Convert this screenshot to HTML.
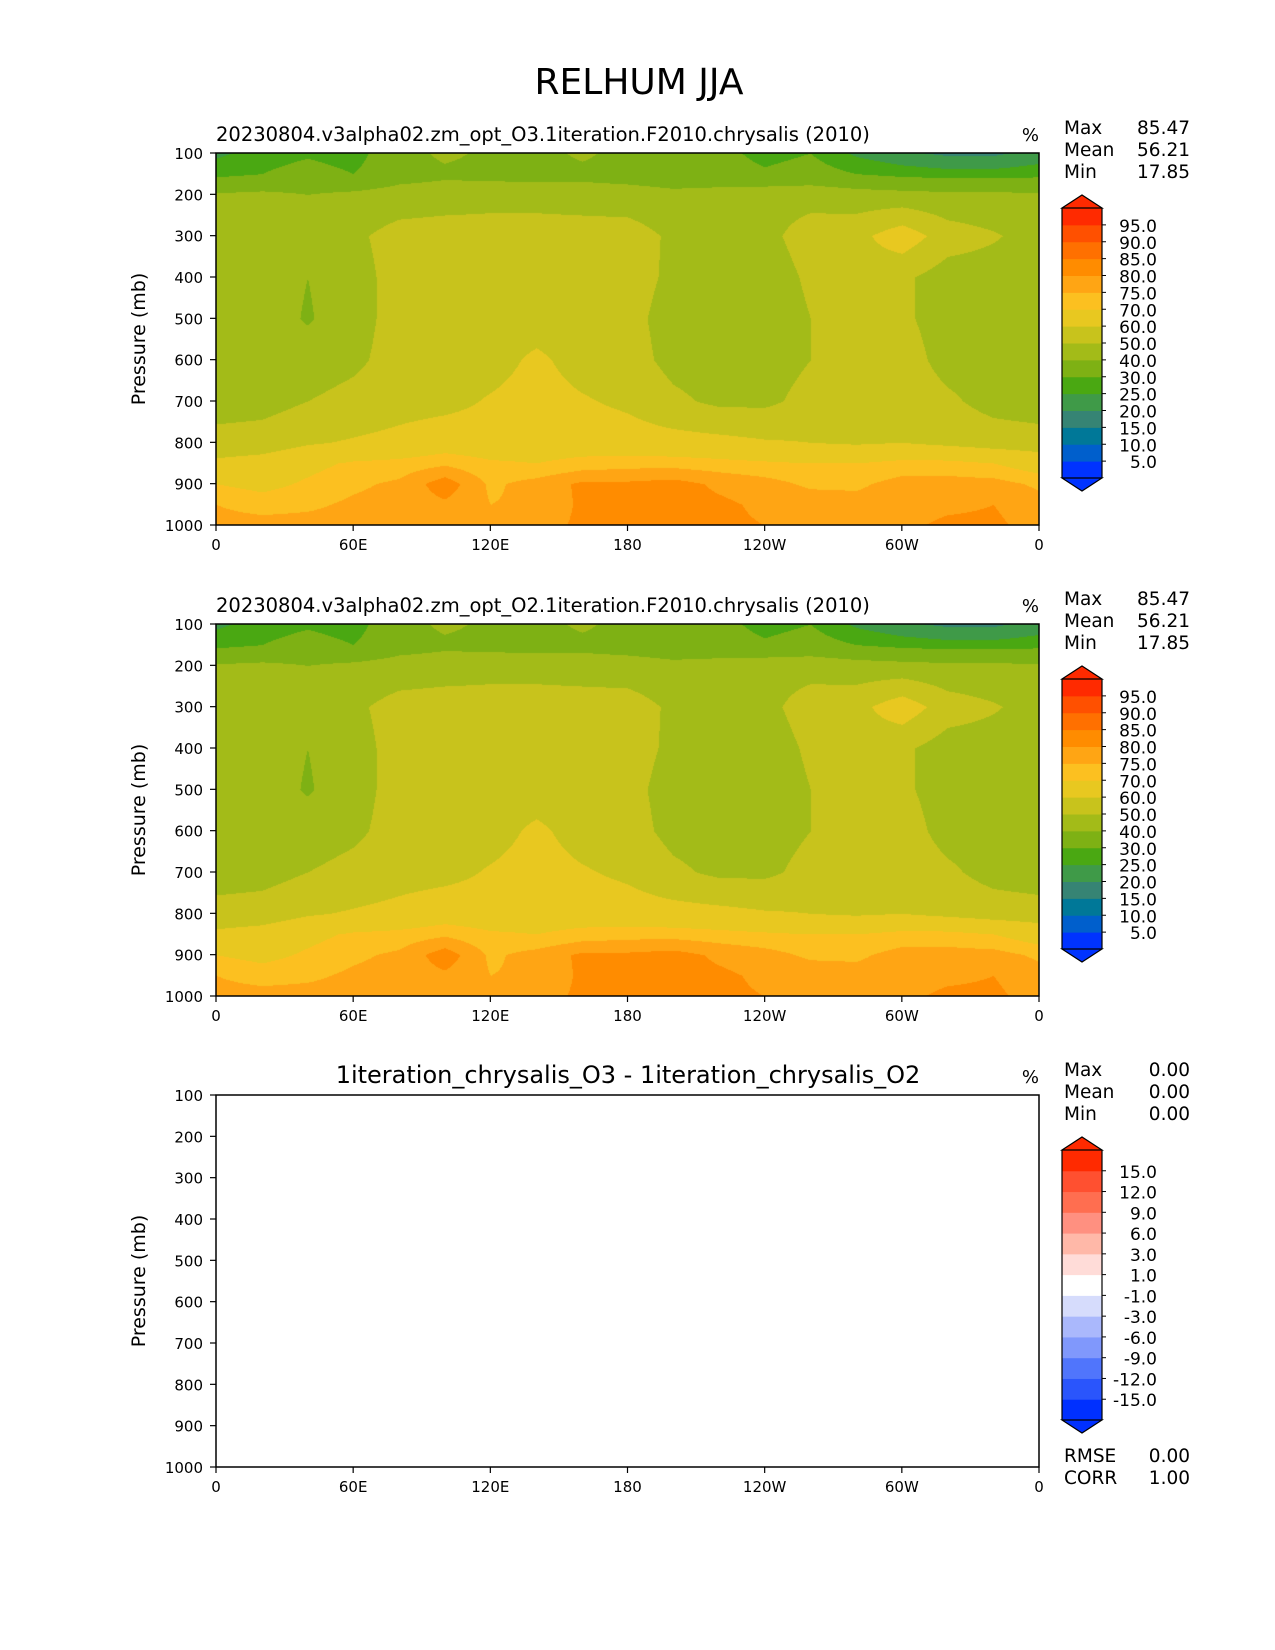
<!DOCTYPE html>
<html><head><meta charset="utf-8">
<style>
body{margin:0;background:#fff;width:1275px;height:1650px;position:relative;overflow:hidden;font-family:"Liberation Sans","DejaVu Sans",sans-serif;}
canvas{position:absolute;}
svg{position:absolute;left:0;top:0;}
</style></head>
<body>
<canvas id="c1" width="823" height="372" style="left:216px;top:153px"></canvas>
<canvas id="c2" width="823" height="372" style="left:216px;top:624px"></canvas>
<svg id="ov" width="1275" height="1650" font-family="DejaVu Sans, Liberation Sans, sans-serif"></svg>
<script>
const lons=[0,20,40,60,80,100,120,140,160,180,200,220,240,260,280,300,320,340,360];
const pres=[100,150,200,300,400,500,600,700,800,850,900,950,1000];
const rh=[
[24,27,29,27,36,42,38,36,42,36,35,32,28,30,24,21,19,19,22],
[28,30,33,30,36,38,37,36,37,36,35,33,31,33,30,28,27,27,28],
[41,42,40,42,44,45,46,46,45,44,42,44,46,46,44,43,42,42,41],
[46,46,46,48,54,55,55,55,55,55,48,46,47,55,57,66,55,51,46],
[45,45,40,46,54,55,55,55,55,54,48,45,44,52,56,52,45,45,45],
[45,45,39,46,54,55,55,55,55,53,46,44,43,50,55,52,45,45,45],
[45,45,45,48,54,55,56,62,56,54,47,45,46,50,55,55,46,45,45],
[45,46,50,53,56,57,61,64,61,58,52,48,48,53,56,57,52,46,44],
[54,55,59,61,63,66,65,66,66,65,64,63,61,60,59,60,58,56,55],
[62,64,68,71,72,74,71,70,72,73,73,72,71,70,70,72,72,70,66],
[70,68,71,74,76,83,74,77,81,81,82,79,77,74,74,77,77,77,74],
[75,73,74,76,77,79,75,76,81,82,82,81,79,78,77,78,79,80,77],
[77,77,77,77,78,78,76,78,81,81,82,81,80,79,79,79,81,81,78]];
const levels=[5,10,15,20,25,30,40,50,60,70,75,80,85,90,95];
const levelLabels=["5.0","10.0","15.0","20.0","25.0","30.0","40.0","50.0","60.0","70.0","75.0","80.0","85.0","90.0","95.0"];
const colors=["#0033ff","#005fcc","#007898","#368474","#3f9a48","#4aa812","#7eb114","#a3bb18","#c8c31c","#e8c820","#fcc020","#ffa514","#ff8c00","#ff7000","#ff5000","#ff2a00"];
const dLabels=["-15.0","-12.0","-9.0","-6.0","-3.0","-1.0","1.0","3.0","6.0","9.0","12.0","15.0"];
const dColors=["#0030ff","#2a55fc","#5075fc","#8098fc","#aab8fc","#d6dcfc","#ffffff","#ffdcd8","#ffb8a8","#ff9080","#ff6e50","#ff5030","#ff2a00"];
const xTicks=[0,60,120,180,240,300,360];
const xLabels=["0","60E","120E","180","120W","60W","0"];
const yTicks=[100,200,300,400,500,600,700,800,900,1000];

const PW=823,PH=372,PL=216;
function xs(lon){return PL+lon/360*PW;}
function ys(top,p){return top+(p-100)/900*PH;}
function colorFor(v){let i=0;while(i<levels.length&&v>=levels[i])i++;return colors[i];}
function hex(c){return [parseInt(c.slice(1,3),16),parseInt(c.slice(3,5),16),parseInt(c.slice(5,7),16)];}
function field(lon,p){
  let i=0;while(i<lons.length-2&&lon>lons[i+1])i++;
  let j=0;while(j<pres.length-2&&p>pres[j+1])j++;
  const tx=(lon-lons[i])/(lons[i+1]-lons[i]),ty=(p-pres[j])/(pres[j+1]-pres[j]);
  const a=rh[j][i],b=rh[j][i+1],c=rh[j+1][i],d=rh[j+1][i+1];
  return a*(1-tx)*(1-ty)+b*tx*(1-ty)+c*(1-tx)*ty+d*tx*ty;
}
function paint(id){
  const cv=document.getElementById(id),ctx=cv.getContext('2d');
  const img=ctx.createImageData(PW,PH);
  for(let y=0;y<PH;y++){const p=100+y/PH*900;
    for(let x=0;x<PW;x++){const lon=x/PW*360;
      const c=hex(colorFor(field(lon,p)));const k=(y*PW+x)*4;
      img.data[k]=c[0];img.data[k+1]=c[1];img.data[k+2]=c[2];img.data[k+3]=255;}}
  ctx.putImageData(img,0,0);
}
paint('c1');paint('c2');

const NS="http://www.w3.org/2000/svg",ov=document.getElementById('ov');
function el(t,a,txt){const e=document.createElementNS(NS,t);for(const k in a)e.setAttribute(k,a[k]);if(txt!==undefined)e.textContent=txt;ov.appendChild(e);return e;}

let t=el('text',{x:639,y:94,'font-size':36,'text-anchor':'middle'},'RELHUM JJA');



const panels=[
 {top:153,title:'20230804.v3alpha02.zm_opt_O3.1iteration.F2010.chrysalis (2010)',anchor:'start',tx:216,stats:[['Max','85.47'],['Mean','56.21'],['Min','17.85']],diff:false},
 {top:624,title:'20230804.v3alpha02.zm_opt_O2.1iteration.F2010.chrysalis (2010)',anchor:'start',tx:216,stats:[['Max','85.47'],['Mean','56.21'],['Min','17.85']],diff:false},
 {top:1095,title:'1iteration_chrysalis_O3 - 1iteration_chrysalis_O2',anchor:'middle',tx:628,stats:[['Max','0.00'],['Mean','0.00'],['Min','0.00']],diff:true}
];
panels.forEach((P,pi)=>{
  const top=P.top;
  let r=el('rect',{x:PL,y:top,width:PW,height:PH,fill:'none',stroke:'#000','stroke-width':1.5});
  
  
  let tt=el('text',{x:P.tx,y:top-12,'font-size':P.diff?24:19.5,'text-anchor':P.anchor},P.title);
  
  
  let pc=el('text',{x:1039,y:top-12,'font-size':18,'text-anchor':'end'},'%');
  
  
  P.stats.forEach((s,k)=>{
    let a=el('text',{x:1064,y:top-19+k*22,'font-size':18.5},s[0]);
    
    
    let b=el('text',{x:1190,y:top-19+k*22,'font-size':18.5,'text-anchor':'end'},s[1]);
    
    
  });
  yTicks.forEach(p=>{
    const y=ys(top,p);
    el('line',{x1:PL-6,x2:PL,y1:y,y2:y,stroke:'#000','stroke-width':1.2});
    let l=el('text',{x:PL-13,y:y+6,'font-size':15,'text-anchor':'end'},String(p));
    
    
  });
  xTicks.forEach((v,k)=>{
    const x=xs(v);
    el('line',{x1:x,x2:x,y1:top+PH,y2:top+PH+6,stroke:'#000','stroke-width':1.2});
    let l=el('text',{x:x,y:top+PH+25,'font-size':15,'text-anchor':'middle'},xLabels[k]);
    
    
  });
  let yt=el('text',{x:0,y:0,'font-size':19,'text-anchor':'middle',transform:`translate(145,${top+PH/2}) rotate(-90)`},'Pressure (mb)');
  
  
  const cx=1062,cw=40;
  const cols=P.diff?dColors:colors, labs=P.diff?dLabels:levelLabels;
  const n=cols.length, ctop=top+55, cbot=top+325, bh=(cbot-ctop)/n;
  const g=el('g',{});
  
  
  for(let k=0;k<n;k++){
    const y=cbot-(k+1)*bh;
    const rr=document.createElementNS(NS,'rect');
    rr.setAttribute('x',cx);rr.setAttribute('y',y);rr.setAttribute('width',cw);rr.setAttribute('height',bh+0.5);rr.setAttribute('fill',cols[k]);
    g.appendChild(rr);
  }
  el('polygon',{points:`${cx},${ctop} ${cx+cw/2},${ctop-13} ${cx+cw},${ctop}`,fill:cols[n-1],stroke:'#000','stroke-width':1.2});
  el('polygon',{points:`${cx},${cbot} ${cx+cw/2},${cbot+13} ${cx+cw},${cbot}`,fill:cols[0],stroke:'#000','stroke-width':1.2});
  el('polyline',{points:`${cx},${ctop} ${cx},${cbot}`,stroke:'#000','stroke-width':1.2,fill:'none'});
  el('polyline',{points:`${cx+cw},${ctop} ${cx+cw},${cbot}`,stroke:'#000','stroke-width':1.2,fill:'none'});
  labs.forEach((s,k)=>{
    const y=cbot-(k+1)*bh;
    el('line',{x1:cx+cw,x2:cx+cw+4,y1:y,y2:y,stroke:'#000'});
    let l=el('text',{x:1157,y:y+7,'font-size':17,'text-anchor':'end'},s);
    
    
  });
  if(P.diff){
    [['RMSE','0.00'],['CORR','1.00']].forEach((s,k)=>{
      let a=el('text',{x:1064,y:top+PH-5+k*22,'font-size':18.5},s[0]);
      
      
      let b=el('text',{x:1190,y:top+PH-5+k*22,'font-size':18.5,'text-anchor':'end'},s[1]);
      
      
    });
  }
});
</script>
</body></html>
